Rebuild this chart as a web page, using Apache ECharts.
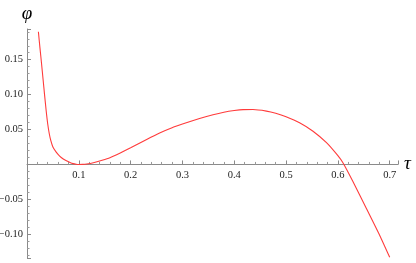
<!DOCTYPE html>
<html><head><meta charset="utf-8">
<script src="https://cdn.jsdelivr.net/npm/echarts@6/dist/echarts.min.js"></script>
<style>html,body{margin:0;padding:0;background:#fff}#c{width:416px;height:263px}</style>
</head><body><div id="c"></div>
<script>
const tauValues = [0.022,0.025,0.028,0.031,0.034,0.037,0.040,0.043,0.046,0.050,0.056,0.063,0.070,0.076,0.083,0.089,0.095,0.100,0.107,0.115,0.128,0.145,0.160,0.180,0.200,0.230,0.256,0.280,0.300,0.333,0.359,0.380,0.400,0.417,0.436,0.462,0.480,0.500,0.526,0.552,0.578,0.600,0.610,0.629,0.655,0.681,0.700];
const phiValues = [0.190,0.167,0.145,0.122,0.099,0.077,0.058,0.044,0.034,0.025,0.018,0.012,0.0078,0.0052,0.0028,0.0012,0.0003,0.0,0.0001,0.0006,0.0024,0.0060,0.0097,0.0165,0.0238,0.0355,0.0452,0.0527,0.0578,0.0657,0.0712,0.0748,0.0772,0.0785,0.0786,0.0764,0.0733,0.0683,0.0597,0.0476,0.0312,0.0125,0.0020,-0.0245,-0.0630,-0.1020,-0.1330];
const xTickLabels = ['0.1','0.2','0.3','0.4','0.5','0.6','0.7'];
const yTickLabels = ['\u22120.10','\u22120.05','0.05','0.10','0.15'];

const data = tauValues.map((t,i)=>[t,phiValues[i]]);
const font = '"Liberation Serif", "Times New Roman", serif';
function exact(v, step){ const k = v/step; return Math.abs(k - Math.round(k)) < 1e-6; }
const yMin = -0.134, yMax = 0.194;
const gridTop = 29, gridBottom = 5, H = 263;
const plotH = H - gridTop - gridBottom;
const zeroOffset = -plotH * (0 - yMin) / (yMax - yMin);
const chart = echarts.init(document.getElementById('c'));
chart.setOption({
  animation:false,
  grid:{left:27,right:18,top:gridTop,bottom:gridBottom,containLabel:false,outerBoundsMode:'none'},
  xAxis:{type:'value',min:0,max:0.716,position:'bottom',offset:zeroOffset,
    name:'τ',nameLocation:'end',nameGap:6,
    nameTextStyle:{fontFamily:font,fontStyle:'italic',fontSize:19,color:'#000',verticalAlign:'middle',padding:[0,0,2,0]},
    axisLine:{onZero:false,lineStyle:{color:'#8a8a8a',width:1}},
    axisTick:{inside:true,length:4,lineStyle:{color:'#8a8a8a'}},
    minorTick:{show:true,splitNumber:5,length:2.5,lineStyle:{color:'#9a9a9a'}},
    splitLine:{show:false},
    axisLabel:{fontFamily:font,fontSize:10.5,color:'#222',margin:5,
      formatter:v=>{ if(!exact(v,0.1)) return ''; const s=v.toFixed(1); return xTickLabels.indexOf(s)>=0?s:''; }}
  },
  yAxis:{type:'value',min:yMin,max:yMax,
    name:'φ',nameLocation:'end',nameGap:6,
    nameTextStyle:{fontFamily:font,fontStyle:'italic',fontSize:19,color:'#000',align:'center'},
    axisLine:{onZero:false,lineStyle:{color:'#8a8a8a',width:1}},
    axisTick:{inside:true,length:4,lineStyle:{color:'#8a8a8a'}},
    minorTick:{show:true,splitNumber:5,length:2.5,lineStyle:{color:'#9a9a9a'}},
    splitLine:{show:false},
    axisLabel:{fontFamily:font,fontSize:10.5,color:'#222',margin:4,
      formatter:v=>{ if(!exact(v,0.05)) return ''; const s=(v<0?'\u2212':'')+Math.abs(v).toFixed(2); return yTickLabels.indexOf(s)>=0?s:''; }}
  },
  series:[{type:'line',data:data,smooth:0.2,showSymbol:false,
    lineStyle:{color:'#ff3b3b',width:1.1}}]
});
</script></body></html>
